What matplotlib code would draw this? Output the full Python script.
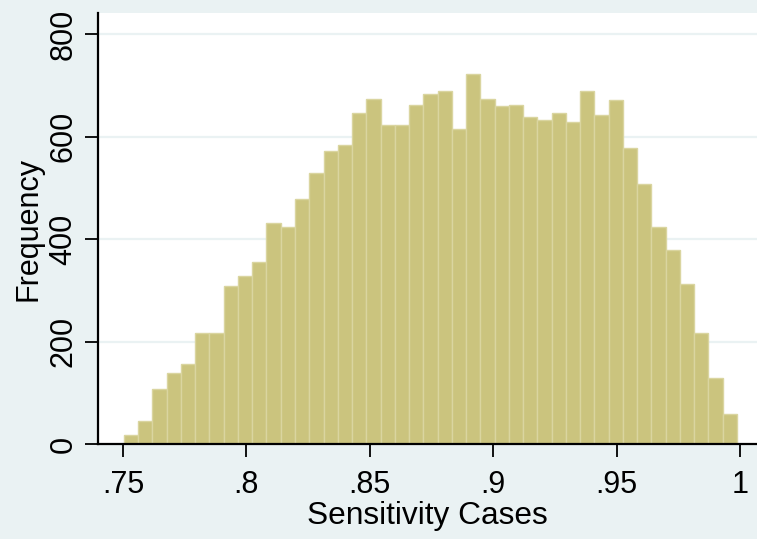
import numpy as np
import matplotlib
matplotlib.use("Agg")
import matplotlib.pyplot as plt

# Histogram of sensitivity across simulated cases (43 equal-width bins)
bin_start = 0.7504
bin_end = 0.9988
counts = [18, 46, 107, 139, 157, 218, 218, 309, 328, 355,
          431, 423, 479, 529, 572, 584, 646, 674, 622, 622,
          662, 684, 688, 615, 723, 674, 659, 662, 639, 632,
          646, 628, 688, 643, 672, 578, 508, 423, 379, 313,
          218, 130, 60]
x_ticks = [0.75, 0.80, 0.85, 0.90, 0.95, 1.00]
x_tick_labels = [".75", ".8", ".85", ".9", ".95", "1"]
y_ticks = [0, 200, 400, 600, 800]
y_tick_labels = ["0", "200", "400", "600", "800"]

edges = np.linspace(bin_start, bin_end, len(counts) + 1)

plt.rcParams['font.family'] = ['Liberation Sans', 'DejaVu Sans']

bg = '#EAF2F3'
fig = plt.figure(figsize=(7.57, 5.39), dpi=100, facecolor=bg)
W, H = 757, 539
left, right, top, bottom = 97.5, 757, 13, 444.3
ax = fig.add_axes([left / W, (H - bottom) / H, (right - left) / W, (bottom - top) / H])
ax.set_facecolor('white')

ax.hist(edges[:-1], bins=edges, weights=counts, color='#CBC47E',
        edgecolor='#DAD5A0', linewidth=1.0, zorder=2)

ax.set_xlim(0.7397, 1.0069)
ax.set_ylim(0, 841)

fs = 22
ax.set_yticks(y_ticks)
ax.set_yticklabels(y_tick_labels, rotation=90, va='center', fontsize=fs)
ax.set_xticks(x_ticks)
ax.set_xticklabels(x_tick_labels, fontsize=fs)

for v in y_ticks[1:]:
    ax.axhline(v, color=bg, linewidth=1.6, zorder=1)

for side in ('top', 'right'):
    ax.spines[side].set_visible(False)
for side in ('left', 'bottom'):
    ax.spines[side].set_linewidth(1.6)
    ax.spines[side].set_color('black')

ax.tick_params(axis='both', length=9.5, width=1.3, color='black')
ax.tick_params(axis='y', pad=4)
ax.tick_params(axis='x', pad=9)

ax.set_xlabel("Sensitivity Cases", fontsize=22.8, labelpad=1)
ax.set_ylabel("Frequency", fontsize=fs, labelpad=4)

fig.savefig("out.png", dpi=100, facecolor=bg)
